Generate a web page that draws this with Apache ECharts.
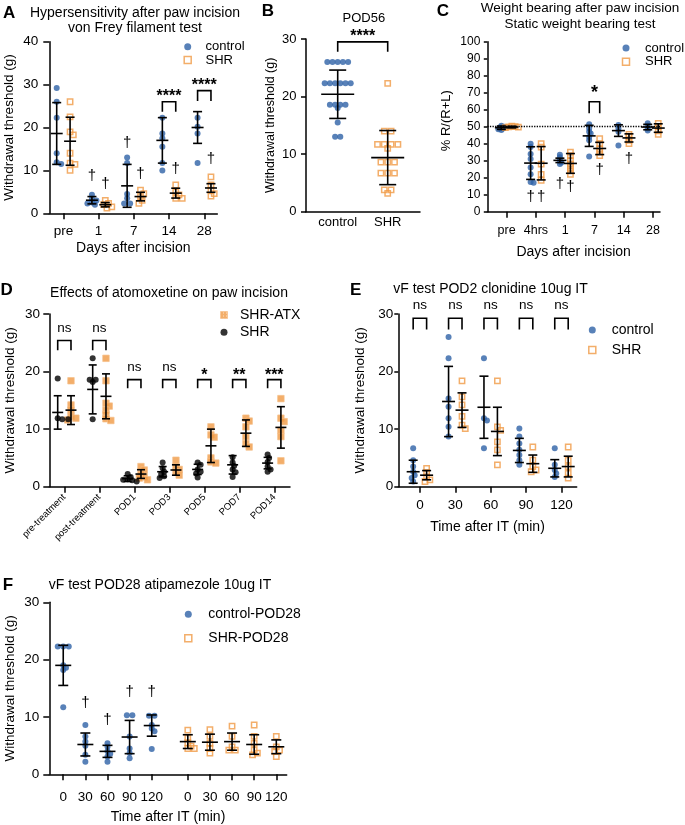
<!DOCTYPE html>
<html><head><meta charset="utf-8">
<script src="https://cdn.jsdelivr.net/npm/echarts@6/dist/echarts.min.js"></script>
<style>html,body{margin:0;padding:0;background:#fff}#c{width:685px;height:825px}</style>
</head><body><div id="c"></div>
<script>
const FONT = 'Liberation Sans, Arial, Helvetica, sans-serif';
const BLUE = '#2e62a6', ORANGE = '#f09a45';

// ---------- Panel A : von Frey after incision ----------
const aCats = ['pre', '1', '7', '14', '28'];
const aControl = [[29.2, 26, 22.3, 14, 11.9, 11.5], [4.3, 3.4, 3, 2.5, 2.3, 2], [13, 11.7, 4.5, 3.5, 2.3, 2.3], [22.3, 18.6, 17.5, 15.5, 11.7, 10], [22.3, 20.2, 18.6, 11.7]];
const aControlMean = [18.6, 3.05, 6.4, 17.0, 20.0];
const aControlSD = [7.2, 0.85, 5.0, 5.3, 3.7];
const aSHR = [[26, 22.5, 19, 18.3, 14, 11.7, 11.4, 10], [3, 2.3, 2, 1.5, 1.2], [5.4, 4.6, 3.9, 3, 2.3], [6.6, 5, 4.3, 3.5, 3.5], [8.5, 6.6, 5.4, 4.6, 4]];
const aSHRMean = [16.8, 2.0, 3.9, 4.7, 5.9];
const aSHRSD = [5.6, 0.5, 1.0, 1.15, 1.0];
const aDaggers = [[1, -1, 8.8], [1, 1, 6.8], [2, -1, 16.5], [2, 1, 9.3], [3, 1, 10.3], [4, 1, 12.7]];
const aBrackets = [[3, 26.0, 23.7], [4, 28.6, 26.2]];
const aBracketLabels = ['****', '****'];

// ---------- Panel B : POD56 ----------
const bCats = ['control', 'SHR'];
const bControl = [26, 26, 26, 26, 26, 22.3, 22.3, 22.3, 22.3, 22.3, 22.3, 18.6, 18.6, 18.6, 18.6, 18, 15.5, 13, 13];
const bSHR = [22.3, 14, 14, 11.7, 11.7, 11.7, 11.7, 11, 8.6, 8.6, 8.6, 6.7, 6.7, 6.7, 3.8, 3.8, 3.2];
const bMean = [20.4, 9.4];
const bSD = [4.2, 4.7];
const bBrackets = [[0, 1, 29.5, 27.8]];
const bBracketLabels = ['****'];

// ---------- Panel C : weight bearing ----------
const cCats = ['pre', '4hrs', '1', '7', '14', '28'];
const cControl = [[50, 49.5, 49, 48.5, 48, 50.5], [40, 38, 34, 31, 26, 22, 17.5, 17], [33.5, 32, 30, 29, 28], [51.5, 49, 47, 46, 44, 42, 32.5], [51, 49, 47, 39], [52, 50.5, 49, 47.8]];
const cControlMean = [49.4, 28.6, 30.2, 44.6, 47.7, 49.8];
const cControlSD = [1.0, 9.6, 1.3, 6.2, 3.4, 1.6];
const cSHR = [[49.5, 50, 50.3, 49.7, 49.9], [40, 38, 28, 22, 18.5], [35, 33, 30, 28, 26, 24, 22], [43, 40, 37, 35, 33], [45.5, 44, 42, 40], [52, 50, 47.5, 45.5]];
const cSHRMean = [49.8, 28.5, 28.4, 37.2, 43.4, 49.2];
const cSHRSD = [0.5, 9.8, 5.8, 3.6, 2.4, 2.5];
const cDaggers = [[1, -1, 8.5], [1, 1, 8.5], [2, -1, 16.3], [2, 1, 14.7], [3, 1, 24.5], [4, 1, 30.8]];
const cBrackets = [[3, 64.7, 57.9]];
const cBracketLabels = ['*'];
const cReference = 50;

// ---------- Panel D : atomoxetine ----------
const dCats = ['pre-treatment', 'post-treatment', 'POD1', 'POD3', 'POD5', 'POD7', 'POD14'];
const dSHR = [[18.8, 11.7, 11.7, 11.9], [22.3, 18.6, 18.6, 18.2, 11.7], [2.2, 1.7, 1.3, 1.1, 0.9, 1.2], [4.2, 3.2, 2.6, 2.2, 1.8, 1.5], [4.2, 3.8, 3, 2.6, 2.3, 1.6], [5.1, 4.2, 3.6, 3, 2.5, 1.7], [5.6, 5.0, 4.3, 3.5, 3.0, 2.6]];
const dSHRMean = [12.9, 16.9, 1.4, 2.6, 3.0, 3.8, 4.1];
const dSHRSD = [2.9, 4.25, 0.5, 0.9, 0.9, 1.6, 1.0];
const dATX = [[18.4, 14.2, 13.3, 12.2, 11.9, 11.6], [22.3, 18.4, 14.5, 14, 13.3, 12.5, 11.8, 11.5], [3.5, 2.9, 2.2, 1.7, 1.5, 1.2], [4.6, 3.5, 3.0, 2.6, 2.0], [10.4, 9.0, 8.6, 5.0, 4.3, 4.1], [11.9, 11.4, 10.4, 8.7, 7.5, 6.9], [15.3, 11.9, 11.3, 9.8, 8.7, 4.5]];
const dATXMean = [13.3, 15.7, 2.2, 2.9, 7.1, 9.3, 10.3];
const dATXSD = [2.5, 3.9, 0.75, 0.9, 2.9, 2.3, 3.6];
const dBrackets = [[0, 25.4, 23.7], [1, 25.4, 23.7], [2, 18.6, 17.1], [3, 18.6, 17.1], [4, 18.6, 17.1], [5, 18.6, 17.1], [6, 18.6, 17.1]];
const dBracketLabels = ['ns', 'ns', 'ns', 'ns', '*', '**', '***'];

// ---------- Panel E : clonidine ----------
const eCats = ['0', '30', '60', '90', '120'];
const eControl = [[6.7, 4.6, 3.5, 2.6, 2, 1.5, 0.9], [26, 22.3, 15.3, 13.9, 11.9, 10.4, 8.7], [22.3, 11.9, 11.5, 6.7], [10.1, 8.7, 7.5, 6.4, 5.5, 4.6, 3.8], [6.7, 3.8, 2.9, 2.3, 1.7]];
const eControlMean = [2.6, 14.8, 13.8, 6.3, 3.2];
const eControlSD = [2.0, 6.1, 5.4, 2.1, 1.5];
const eSHR = [[3.2, 2.5, 1.7, 1.2, 0.9], [18.4, 15.6, 14.2, 12.2, 10.7, 10.1], [18.4, 10.4, 9.8, 7.8, 6.4, 3.8], [6.9, 4.6, 3.5, 2.9, 2.6], [6.9, 4.6, 3.5, 2.3, 1.5]];
const eSHRMean = [2.0, 13.3, 9.6, 4.0, 3.5];
const eSHRSD = [0.8, 3.0, 4.2, 1.5, 1.8];
const eBrackets = [[0, 29.25, 27.3], [1, 29.25, 27.3], [2, 29.25, 27.3], [3, 29.25, 27.3], [4, 29.25, 27.3]];
const eBracketLabels = ['ns', 'ns', 'ns', 'ns', 'ns'];

// ---------- Panel F : atipamezole ----------
const fCats = ['0', '30', '60', '90', '120', '0', '30', '60', '90', '120'];
const fControl = [[22.3, 22.3, 22.3, 19, 18.6, 18.2, 11.7], [8.6, 6.6, 5.7, 5, 3.4, 2.2], [5.4, 4.8, 4.0, 3.6, 3.1, 2.2], [10.3, 10.3, 6.6, 4.5, 3.7, 2.8], [10.2, 10.2, 8.6, 8.0, 7.5, 4.4]];
const fControlMean = [19.0, 5.2, 4.0, 6.5, 8.5];
const fControlSD = [3.5, 2.0, 1.05, 2.9, 1.85];
const fSHR = [[7.7, 6.3, 5.5, 4.9, 4.5, 4.5], [7.8, 6.6, 5.4, 4.5, 3.7], [8.4, 6.6, 4.8, 4.2, 4.2], [8.6, 6.6, 5.4, 4.2, 3.4, 3.7], [6.6, 4.8, 4.2, 3.1, 4.0]];
const fSHRMean = [5.7, 5.6, 5.7, 5.2, 4.8];
const fSHRSD = [1.2, 1.4, 1.5, 1.7, 1.2];
const fDaggers = [[1, 0, 12.4], [2, 0, 9.5], [3, 0, 14.4], [4, 0, 14.4]];

// ---------- layout ----------
const P = {
  A: {gi: 0, left: 49.3, top: 41.7, width: 168, height: 171.6, xmin: -0.4, xmax: 4.37, ymax: 40, off: 0.19, sp: 0.6},
  B: {gi: 1, left: 306, top: 39, width: 114, height: 172.7, xmin: -0.634, xmax: 1.646, ymax: 30, off: 0, sp: 0.6},
  C: {gi: 2, left: 487.3, top: 41.7, width: 172.7, height: 170, xmin: -0.66, xmax: 5.24, ymax: 100, off: 0.18, sp: 0.3},
  D: {gi: 3, left: 49.3, top: 314, width: 240.7, height: 172.7, xmin: -0.43, xmax: 6.45, ymax: 30, off: 0.19, sp: 0.6},
  E: {gi: 4, left: 398.3, top: 314, width: 178.4, height: 172.7, xmin: -0.61, xmax: 4.43, ymax: 30, off: 0.19, sp: 0.6},
  F: {gi: 5, left: 49.3, top: 602.3, width: 237.4, height: 172, xmin: -0.63, xmax: 10.1, ymax: 30, off: 0, sp: 0.6}
};
const F_GAP = 0.63;
const idx = a => a.map((c, i) => i);
const aPos = idx(aCats), bPos = idx(bCats), cPos = idx(cCats), dPos = idx(dCats), ePos = idx(eCats);
const fPos = fCats.map((c, i) => i < 5 ? i : i + F_GAP);

// scatter-dot spreading: identical values form centered rows; rows are nudged sideways
// only as far as needed to limit overlap with earlier points (partial overlap allowed)
function swarm(vals, cx, p, diam) {
  const sx = p.width / (p.xmax - p.xmin), sy = p.height / p.ymax;
  const rows = {};
  vals.forEach(v => { const k = v.toFixed(2); (rows[k] = rows[k] || []).push(v); });
  const keys = Object.keys(rows).sort((a, b) => parseFloat(b) - parseFloat(a));
  const placed = [], out = [];
  const minD = diam * p.sp, step = diam * 0.25;
  keys.forEach(k => {
    const r = rows[k], y = r[0] * sy;
    const base = r.map((v, j) => (j - (r.length - 1) / 2) * diam);
    let shift = 0;
    for (let t = 0; t < 200; t++) {
      const s = (t % 2 === 1 ? 1 : -1) * Math.ceil(t / 2) * step;
      const ok = base.every(b => placed.every(q => Math.hypot(q[0] - (b + s), q[1] - y) >= minD));
      if (ok) { shift = s; break; }
    }
    base.forEach((b, j) => { placed.push([b + shift, y]); out.push([cx + (b + shift) / sx, r[j]]); });
  });
  return out;
}
function groupPts(groups, pos, shift, p, diam) {
  let pts = [];
  groups.forEach((vals, i) => { pts = pts.concat(swarm(vals, pos[i] + shift, p, diam)); });
  return pts;
}
function errItems(means, sds, pos, shift) { return means.map((m, i) => [pos[i] + shift, m, sds[i]]); }

const series = [];
const dotStyle = {symbol: 'circle', symbolSize: 6, itemStyle: {color: BLUE}};
const sqStyle = {symbol: 'rect', symbolSize: 5.3, itemStyle: {color: 'rgba(0,0,0,0)', borderColor: ORANGE, borderWidth: 1.5}};
function addScatter(p, name, pts, st, extra) {
  series.push(Object.assign({type: 'scatter', name, xAxisIndex: p.gi, yAxisIndex: p.gi, data: pts, symbol: st.symbol,
    symbolSize: st.symbolSize, itemStyle: st.itemStyle, z: 2, silent: true, clip: false}, extra || {}));
}
function addErr(p, items, capH, meanH) {
  series.push({type: 'custom', xAxisIndex: p.gi, yAxisIndex: p.gi, data: items, encode: {x: 0, y: 1}, z: 10, clip: false, silent: true,
    renderItem: function (params, api) {
      const x = api.value(0), m = api.value(1), s = api.value(2);
      const t = api.coord([x, m + s]), b = api.coord([x, m - s]), c = api.coord([x, m]);
      const st = {stroke: '#000', lineWidth: 1.6};
      const ln = (x1, y1, x2, y2) => ({type: 'line', shape: {x1, y1, x2, y2}, style: st});
      return {type: 'group', children: [ln(t[0], t[1], b[0], b[1]), ln(t[0] - capH, t[1], t[0] + capH, t[1]),
        ln(b[0] - capH, b[1], b[0] + capH, b[1]), ln(c[0] - meanH, c[1], c[0] + meanH, c[1])]};
    }});
}
function textStyle(txt, fs, fw) {
  return {text: txt, fill: '#000', fontSize: fs, fontWeight: fw || 'normal', fontFamily: FONT,
    align: 'center', verticalAlign: 'middle', textAlign: 'center', textVerticalAlign: 'middle'};
}
function addBrackets(p, items, labels, o) {
  series.push({type: 'custom', xAxisIndex: p.gi, yAxisIndex: p.gi, data: items, encode: {x: [0, 1], y: [2, 3]}, z: 10, clip: false, silent: true,
    renderItem: function (params, api) {
      const x1 = api.value(0), x2 = api.value(1), top = api.value(2), leg = api.value(3);
      const a = api.coord([x1, leg]), b = api.coord([x1, top]), c = api.coord([x2, top]), d = api.coord([x2, leg]);
      const lab = labels[params.dataIndex];
      const s = lab === 'ns' ? o.ns : o.star;
      return {type: 'group', children: [
        {type: 'polyline', shape: {points: [a, b, c, d]}, style: {stroke: '#000', lineWidth: 1.6, fill: 'none'}},
        {type: 'text', x: (b[0] + c[0]) / 2, y: b[1] - s.gap, style: textStyle(lab, s.fs, s.fw)}
      ]};
    }});
}
function addDaggers(p, items) {
  series.push({type: 'custom', xAxisIndex: p.gi, yAxisIndex: p.gi, data: items, encode: {x: 0, y: 1}, z: 10, clip: false, silent: true,
    renderItem: function (params, api) {
      const c = api.coord([api.value(0), api.value(1)]);
      return {type: 'text', x: c[0], y: c[1], style: textStyle('\u2020', 15)};
    }});
}
const grouped = (arr, pos, p) => arr.map(b => [pos[b[0]] - p.off, pos[b[0]] + p.off, b[1], b[2]]);
const daggerItems = (arr, pos, p) => arr.map(d => [pos[d[0]] + d[1] * p.off, d[2]]);
const STAR = {gap: 4.8, fs: 16, fw: 'bold'};

// Panel A
addScatter(P.A, 'A|control', groupPts(aControl, aPos, -P.A.off, P.A, 6), dotStyle);
addScatter(P.A, 'A|SHR', groupPts(aSHR, aPos, P.A.off, P.A, 6.5), sqStyle);
addErr(P.A, errItems(aControlMean, aControlSD, aPos, -P.A.off).concat(errItems(aSHRMean, aSHRSD, aPos, P.A.off)), 4.5, 6);
addBrackets(P.A, grouped(aBrackets, aPos, P.A), aBracketLabels, {star: STAR});
addDaggers(P.A, daggerItems(aDaggers, aPos, P.A));

// Panel B
addScatter(P.B, 'B|control', swarm(bControl, bPos[0], P.B, 5.2), dotStyle);
addScatter(P.B, 'B|SHR', swarm(bSHR, bPos[1], P.B, 6.8), sqStyle);
addErr(P.B, errItems(bMean, bSD, bPos, 0), 8.5, 16.5);
addBrackets(P.B, bBrackets, bBracketLabels, {star: STAR});

// Panel C
addScatter(P.C, 'C|control', groupPts(cControl, cPos, -P.C.off, P.C, 6), dotStyle, {
  markLine: {silent: true, symbol: ['none', 'none'], label: {show: false}, animation: false,
    lineStyle: {type: 'dotted', color: '#000', width: 1.3}, data: [{yAxis: cReference}]}
});
addScatter(P.C, 'C|SHR', groupPts(cSHR, cPos, P.C.off, P.C, 6.5), sqStyle);
addErr(P.C, errItems(cControlMean, cControlSD, cPos, -P.C.off).concat(errItems(cSHRMean, cSHRSD, cPos, P.C.off)), 4.5, 6.5);
addBrackets(P.C, grouped(cBrackets, cPos, P.C), cBracketLabels, {star: {gap: 8.4, fs: 18, fw: 'bold'}});
addDaggers(P.C, daggerItems(cDaggers, cPos, P.C));

// Panel D
const pc = document.createElement('canvas'); pc.width = 3; pc.height = 3;
const g2 = pc.getContext('2d'); g2.fillStyle = ORANGE; g2.fillRect(0, 0, 3, 3); g2.fillStyle = '#fbdcb8'; g2.fillRect(1, 1, 1, 1);
const ATX_FILL = {image: pc, repeat: 'repeat'};
const atxStyle = {symbol: 'rect', symbolSize: 6.5, itemStyle: {color: ATX_FILL, borderColor: '#f5bd85', borderWidth: 0.8}};
const blackStyle = {symbol: 'circle', symbolSize: 6, itemStyle: {color: '#000'}};
addScatter(P.D, 'D|SHR-ATX', groupPts(dATX, dPos, P.D.off, P.D, 6.5), atxStyle);
addScatter(P.D, 'D|SHR', groupPts(dSHR, dPos, -P.D.off, P.D, 6), blackStyle);
addErr(P.D, errItems(dSHRMean, dSHRSD, dPos, -P.D.off).concat(errItems(dATXMean, dATXSD, dPos, P.D.off)), 4, 5.5);
addBrackets(P.D, grouped(dBrackets, dPos, P.D), dBracketLabels, {star: {gap: 4, fs: 16, fw: 'bold'}, ns: {gap: 11.9, fs: 13.5, fw: 'normal'}});

// Panel E
addScatter(P.E, 'E|control', groupPts(eControl, ePos, -P.E.off, P.E, 6), dotStyle);
addScatter(P.E, 'E|SHR', groupPts(eSHR, ePos, P.E.off, P.E, 6.5), sqStyle);
addErr(P.E, errItems(eControlMean, eControlSD, ePos, -P.E.off).concat(errItems(eSHRMean, eSHRSD, ePos, P.E.off)), 4.5, 6.5);
addBrackets(P.E, grouped(eBrackets, ePos, P.E), eBracketLabels, {ns: {gap: 12.8, fs: 13.5, fw: 'normal'}});

// Panel F
const fCtrlPos = fPos.slice(0, 5), fShrPos = fPos.slice(5);
addScatter(P.F, 'F|control-POD28', groupPts(fControl, fCtrlPos, 0, P.F, 5.5), dotStyle);
addScatter(P.F, 'F|SHR-POD28', groupPts(fSHR, fShrPos, 0, P.F, 6.5), sqStyle);
addErr(P.F, errItems(fControlMean, fControlSD, fCtrlPos, 0).concat(errItems(fSHRMean, fSHRSD, fShrPos, 0)), 5, 8);
addDaggers(P.F, daggerItems(fDaggers, fCtrlPos, P.F));

// ---------- axes ----------
const AX = {color: '#000', width: 1.5};
function xAx(p, cats, pos, o) {
  return {gridIndex: p.gi, type: 'value', min: p.xmin, max: p.xmax,
    axisLine: {show: true, onZero: false, lineStyle: AX},
    axisTick: {show: o.tick !== false, customValues: pos, length: 6, lineStyle: AX},
    axisLabel: {customValues: pos, formatter: v => { const k = pos.findIndex(q => Math.abs(q - v) < 1e-6); return k >= 0 ? cats[k] : ''; },
      color: '#000', fontSize: o.fs, fontFamily: FONT, margin: o.margin, rotate: o.rotate || 0},
    splitLine: {show: false},
    name: o.name || '', nameLocation: 'middle', nameGap: o.nameGap || 0,
    nameTextStyle: {color: '#000', fontSize: o.nfs || 14, fontFamily: FONT}};
}
function yAx(p, o) {
  return {gridIndex: p.gi, type: 'value', min: 0, max: p.ymax, interval: 10,
    axisLine: {show: true, onZero: false, lineStyle: AX},
    axisTick: {show: true, length: o.tl, lineStyle: AX},
    axisLabel: {color: '#000', fontSize: o.fs, fontFamily: FONT, margin: o.margin},
    splitLine: {show: false},
    name: o.name, nameLocation: 'middle', nameRotate: 90, nameGap: o.nameGap,
    nameTextStyle: {color: '#000', fontSize: o.nfs, fontFamily: FONT, padding: o.pad || 0}};
}
const WT = 'Withdrawal threshold (g)';
const xAxis = [
  xAx(P.A, aCats, aPos, {fs: 13.5, margin: 11, name: 'Days after incision', nameGap: 28, nfs: 14}),
  xAx(P.B, bCats, bPos, {fs: 13, margin: 4, tick: false}),
  xAx(P.C, cCats, cPos, {fs: 12.5, margin: 12, name: 'Days after incision', nameGap: 33, nfs: 14}),
  xAx(P.D, dCats, dPos, {fs: 9.5, margin: 9, rotate: 45}),
  xAx(P.E, eCats, ePos, {fs: 13.5, margin: 11.5, name: 'Time after IT (min)', nameGap: 33.6, nfs: 14}),
  xAx(P.F, fCats, fPos, {fs: 13.5, margin: 15.5, name: 'Time after IT (min)', nameGap: 36, nfs: 14})
];
const yAxis = [
  yAx(P.A, {fs: 13.5, margin: 11, tl: 6, name: WT, nameGap: 33.5, nfs: 13.5}),
  yAx(P.B, {fs: 13, margin: 9.5, tl: 5, name: WT, nameGap: 28.8, nfs: 12.5}),
  yAx(P.C, {fs: 12, margin: 7, tl: 3.5, name: '% R/(R+L)', nameGap: 34, nfs: 13, pad: [0, 0, 0, 12]}),
  yAx(P.D, {fs: 13.5, margin: 9.3, tl: 6, name: WT, nameGap: 32.5, nfs: 13.5}),
  yAx(P.E, {fs: 13.5, margin: 5, tl: 4, name: WT, nameGap: 31.5, nfs: 13.5}),
  yAx(P.F, {fs: 13.5, margin: 10, tl: 6, name: WT, nameGap: 32.5, nfs: 13.5})
];
const grid = Object.values(P).map(p => ({left: p.left, top: p.top, width: p.width, height: p.height, containLabel: false, outerBoundsMode: 'none'}));

// ---------- legends ----------
const SQ_ICON = 'path://M0,0L10,0L10,10L0,10Z';
const hollowSq = {color: 'rgba(0,0,0,0)', borderColor: ORANGE, borderWidth: 1.5};
function leg(items, left, top, w, gap, fs) {
  return {orient: 'vertical', left, top, itemWidth: w, itemHeight: 7, itemGap: gap, padding: 0, selectedMode: false,
    data: items, formatter: n => n.split('|')[1], textStyle: {fontSize: fs, lineHeight: fs, color: '#000', fontFamily: FONT}};
}
const legend = [
  leg([{name: 'A|control', icon: 'circle'}, {name: 'A|SHR', icon: SQ_ICON, itemStyle: hollowSq}], 183.45, 40.2, 25.6, 0.3, 13),
  leg([{name: 'C|control', icon: 'circle'}, {name: 'C|SHR', icon: SQ_ICON, itemStyle: hollowSq}], 621.75, 41.5, 28, 0.7, 13),
  leg([{name: 'D|SHR-ATX', icon: SQ_ICON, itemStyle: {color: ATX_FILL, borderColor: '#f5bd85', borderWidth: 0.8}}, {name: 'D|SHR', icon: 'circle'}], 220.1, 308, 22, 3.3, 14),
  leg([{name: 'E|control', icon: 'circle'}, {name: 'E|SHR', icon: SQ_ICON, itemStyle: hollowSq}], 588.05, 323, 28.8, 6, 14),
  leg([{name: 'F|control-POD28', icon: 'circle'}, {name: 'F|SHR-POD28', icon: SQ_ICON, itemStyle: hollowSq}], 184.05, 607.3, 30, 10, 14)
];

// ---------- titles ----------
function txt(t, x, y, fs, fw, align) {
  return {type: 'text', x, y, silent: true, style: {text: t, fill: '#000', fontSize: fs, fontWeight: fw || 'normal', fontFamily: FONT,
    align: align || 'center', verticalAlign: 'middle', textAlign: align || 'center', textVerticalAlign: 'middle'}};
}
const graphic = [
  txt('A', 3, 13.3, 17, 'bold', 'left'),
  txt('Hypersensitivity after paw incision', 135, 13.3, 14),
  txt('von Frey filament test', 135, 28.3, 14),
  txt('B', 261.7, 11.7, 17, 'bold', 'left'),
  txt('POD56', 363.8, 18.3, 13),
  txt('C', 436.7, 11.7, 17, 'bold', 'left'),
  txt('Weight bearing after paw incision', 580, 8.3, 13.5),
  txt('Static weight bearing test', 580, 24, 13.5),
  txt('D', 0.5, 290, 17, 'bold', 'left'),
  txt('Effects of atomoxetine on paw incision', 169, 293.3, 14),
  txt('E', 350, 290, 17, 'bold', 'left'),
  txt('vF test POD2 clonidine 10ug IT', 490.5, 289, 14),
  txt('F', 2.7, 585, 17, 'bold', 'left'),
  txt('vF test POD28 atipamezole 10ug IT', 160, 585, 14)
];

const chart = echarts.init(document.getElementById('c'), null, {renderer: 'canvas'});
chart.setOption({animation: false, backgroundColor: '#fff', textStyle: {fontFamily: FONT}, grid, xAxis, yAxis, legend, graphic, series});
</script></body></html>
